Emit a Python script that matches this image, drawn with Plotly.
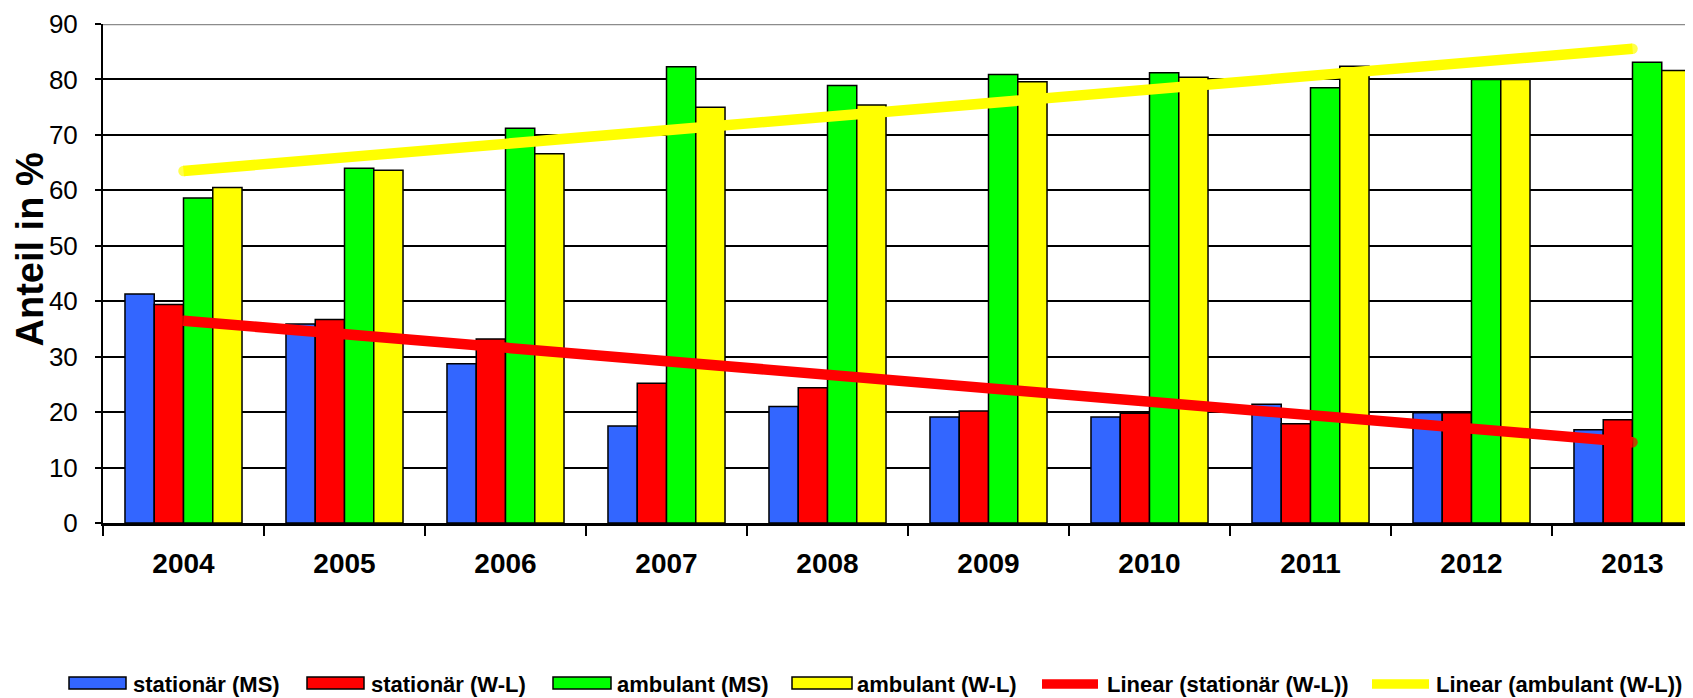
import numpy as np
import plotly.graph_objects as go

years = ["2004", "2005", "2006", "2007", "2008", "2009", "2010", "2011", "2012", "2013"]
stat_ms = [41.3, 35.9, 28.7, 17.5, 21.0, 19.1, 19.1, 21.4, 19.9, 16.8]
stat_wl = [39.4, 36.7, 33.2, 25.2, 24.4, 20.2, 19.8, 17.9, 19.9, 18.6]
amb_ms = [58.6, 64.0, 71.2, 82.3, 78.9, 80.9, 81.2, 78.5, 80.0, 83.1]
amb_wl = [60.5, 63.6, 66.6, 75.0, 75.4, 79.6, 80.4, 82.4, 80.0, 81.6]

names = ["stationär (MS)", "stationär (W-L)", "ambulant (MS)", "ambulant (W-L)",
         "Linear (stationär (W-L))", "Linear (ambulant (W-L))"]
colors = ["#3366FF", "#FF0000", "#00FF00", "#FFFF00"]

# linear trendlines (least squares, as in the original spreadsheet chart)
xi = np.arange(len(years))
p_stat = np.polyfit(xi, stat_wl, 1)
p_amb = np.polyfit(xi, amb_wl, 1)
trend_stat = np.polyval(p_stat, xi)
trend_amb = np.polyval(p_amb, xi)

# the page body has an 8px default margin; size the figure to fill the window
OFF = 8
W, H = 1693 - OFF, 698 - OFF
L, R, T, B = 103 - OFF, 0, 24 - OFF, 175
PW, PH = W - L - R, H - T - B

def px_x(px):  # window pixel -> paper x
    return (px - OFF - L) / PW

def px_y(py):  # window pixel -> paper y
    return (H - B - (py - OFF)) / PH

LW = 10.5
end_caps = [LW] + [0] * (len(years) - 2) + [LW]  # round ends of the trendlines

fig = go.Figure()
for vals, nm, col in zip([stat_ms, stat_wl, amb_ms, amb_wl], names[:4], colors):
    fig.add_trace(go.Bar(x=years, y=vals, name=nm, marker_color=col,
                         marker_line_color="black", marker_line_width=1.5,
                         showlegend=False))
for vals, nm, col in [(trend_stat, names[4], "#FF0000"), (trend_amb, names[5], "#FFFF00")]:
    fig.add_trace(go.Scatter(x=years, y=vals, mode="lines+markers", name=nm,
                             line=dict(color=col, width=LW),
                             marker=dict(size=end_caps, color=col, line=dict(width=0)),
                             showlegend=False))

font_fam = "Liberation Sans, Arial"

fig.update_layout(
    width=W, height=H,
    margin=dict(l=L, r=R, t=T, b=B, pad=0),
    paper_bgcolor="white", plot_bgcolor="white",
    barmode="group", bargap=0.273, bargroupgap=0,
    xaxis=dict(type="category", range=[-0.5, -0.5 + PW / 161.0], automargin=False,
               tickson="boundaries", ticks="outside", ticklen=10, tickwidth=1.5,
               tickcolor="black", showline=True, linecolor="black", linewidth=2.5,
               showgrid=False, ticklabelstandoff=14,
               tickfont=dict(family=font_fam, size=28, color="black", weight="bold")),
    yaxis=dict(range=[0, 90], dtick=10, tick0=0, ticks="outside", ticklen=6,
               automargin=False,
               tickwidth=1.5, tickcolor="black", showline=True, linecolor="black",
               linewidth=2, showgrid=True, gridcolor="black", gridwidth=1.5,
               zeroline=False, ticklabelstandoff=12,
               tickfont=dict(family=font_fam, size=26, color="black")),
)

shapes = [dict(type="line", xref="paper", yref="y", x0=0, x1=1, y0=90, y1=90,
               line=dict(color="#8c8c8c", width=2.5), layer="above")]
annotations = [dict(text="Anteil in %", xref="paper", yref="paper",
                    x=px_x(29.5), y=px_y(250), xanchor="center", yanchor="middle",
                    textangle=-90, showarrow=False,
                    font=dict(family=font_fam, size=38, color="black", weight="bold"))]

# custom legend
swatches = [(69, 126), (307, 364), (553, 611), (792, 852)]
text_left = [132, 370, 616, 856, 1106, 1435]
for (a, b), col in zip(swatches, colors):
    shapes.append(dict(type="rect", xref="paper", yref="paper",
                       x0=px_x(a), x1=px_x(b), y0=px_y(689), y1=px_y(677),
                       fillcolor=col, line=dict(color="black", width=1.5), layer="above"))
for (a, b), col in zip([(1042, 1098), (1372, 1429)], ["#FF0000", "#FFFF00"]):
    shapes.append(dict(type="line", xref="paper", yref="paper",
                       x0=px_x(a), x1=px_x(b), y0=px_y(684), y1=px_y(684),
                       line=dict(color=col, width=9.5), layer="above"))
for nm, tl in zip(names, text_left):
    annotations.append(dict(text=nm, xref="paper", yref="paper", x=px_x(tl), y=px_y(684),
                            xanchor="left", yanchor="middle", showarrow=False,
                            borderpad=0,
                            font=dict(family=font_fam, size=22, color="black", weight="bold")))

fig.update_layout(shapes=shapes, annotations=annotations)
fig.write_html("out.html")
